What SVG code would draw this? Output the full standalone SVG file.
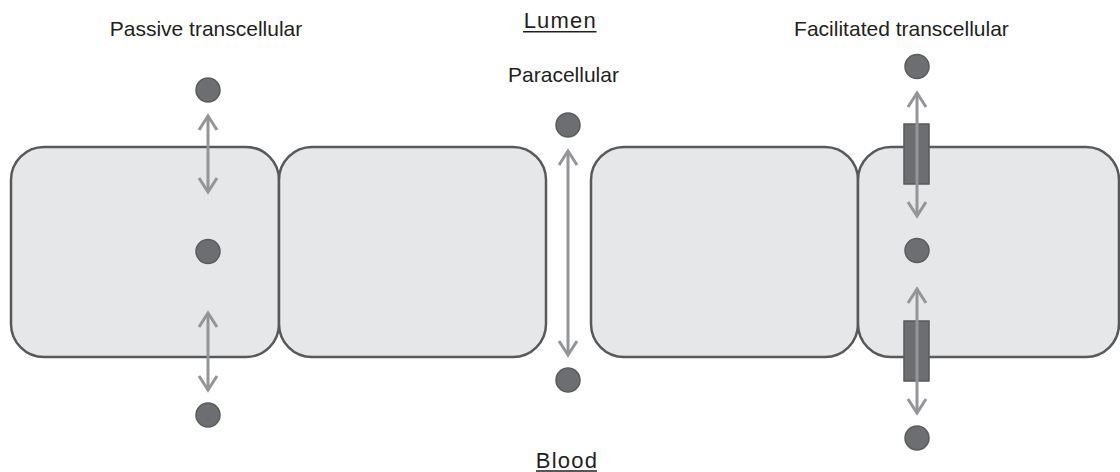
<svg xmlns="http://www.w3.org/2000/svg" width="1120" height="472" viewBox="0 0 1120 472">
<style>
.cell{fill:#e6e7e8;stroke:#58595b;stroke-width:2.5}
.mol{fill:#6d6e71;stroke:#5b5c5e;stroke-width:1.5}
.tr{fill:#6d6e71;stroke:#58595b;stroke-width:1.5}
.arr{fill:none;stroke:#939598;stroke-width:3;marker-start:url(#ah);marker-end:url(#ah)}
.lbl{font-family:"Liberation Sans",Arial,sans-serif;font-size:21px;fill:#231f20;text-anchor:middle}
.big{font-size:22px;letter-spacing:1.2px}
.ul{stroke:#231f20;stroke-width:1.6}
</style>
<defs>
<marker id="ah" viewBox="-16 -11 19 22" refX="0" refY="0" markerWidth="19" markerHeight="22" orient="auto-start-reverse" markerUnits="userSpaceOnUse">
<path d="M-14,-9 L0,0 L-14,9" fill="none" stroke="#939598" stroke-width="3"/>
</marker>
</defs>
<rect width="1120" height="472" fill="#ffffff"/>
<g id="cells">
<g id="cell1"><rect class="cell" x="11" y="147" width="268" height="210" rx="33"/></g>
<g id="cell2"><rect class="cell" x="279" y="147" width="267" height="210" rx="33"/></g>
<g id="cell3"><rect class="cell" x="591" y="147" width="267" height="210" rx="33"/></g>
<g id="cell4"><rect class="cell" x="858" y="147" width="261" height="210" rx="33"/></g>
</g>
<g id="transporters">
<g id="transporter-top"><rect class="tr" x="904" y="124" width="25" height="60"/></g>
<g id="transporter-bottom"><rect class="tr" x="904" y="321" width="25" height="60"/></g>
</g>
<g id="connectors">
<line class="arr" x1="208" y1="116" x2="208" y2="192"/>
<line class="arr" x1="208" y1="313" x2="208" y2="390"/>
<line class="arr" x1="568" y1="151" x2="568" y2="355"/>
<line class="arr" x1="917" y1="93" x2="917" y2="216"/>
<line class="arr" x1="917" y1="289" x2="917" y2="413"/>
</g>
<g id="molecules">
<g id="mol-p1"><circle class="mol" cx="208" cy="90" r="12"/></g>
<g id="mol-p2"><circle class="mol" cx="208" cy="251.5" r="12"/></g>
<g id="mol-p3"><circle class="mol" cx="208" cy="415" r="12"/></g>
<g id="mol-pc1"><circle class="mol" cx="568" cy="125" r="12"/></g>
<g id="mol-pc2"><circle class="mol" cx="568" cy="380" r="12"/></g>
<g id="mol-f1"><circle class="mol" cx="917" cy="66.5" r="12"/></g>
<g id="mol-f2"><circle class="mol" cx="917" cy="250.5" r="12"/></g>
<g id="mol-f3"><circle class="mol" cx="917" cy="438" r="12"/></g>
</g>
<g id="labels">
<text class="lbl" x="206" y="36">Passive transcellular</text>
<text class="lbl" x="901.5" y="36">Facilitated transcellular</text>
<text class="lbl" x="563.5" y="81.5">Paracellular</text>
<text class="lbl big" x="560.3" y="28.3">Lumen</text>
<line class="ul" x1="523" y1="31.7" x2="596.5" y2="31.7"/>
<text class="lbl big" x="567" y="468">Blood</text>
<line class="ul" x1="536" y1="471" x2="597" y2="471"/>
</g>
</svg>
